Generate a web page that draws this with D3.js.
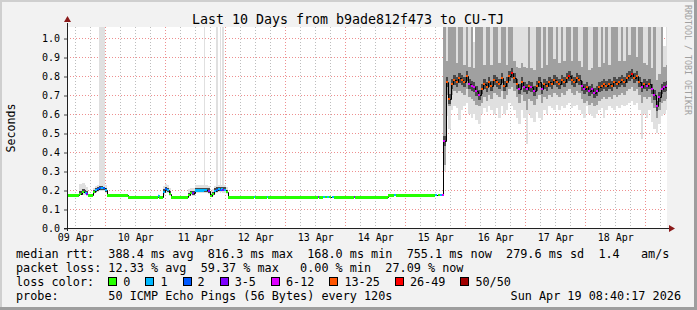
<!DOCTYPE html>
<html>
<head>
<meta charset="utf-8">
<script src="https://d3js.org/d3.v7.min.js"></script>
<style>
body { margin: 0; background: #f2f2f2; }
svg text { font-family: "DejaVu Sans Mono", monospace; }
</style>
</head>
<body>
<div id="chart"></div>
<script>
// graph window (times shown as the probe's local clock)
var startTime = new Date(Date.UTC(2026, 3, 9, 8, 40, 17));
var endTime = new Date(Date.UTC(2026, 3, 19, 8, 40, 17));

// first six days: step samples, hours after startTime
var lowHour = [0, 5.0, 6.0, 7.0, 7.6, 8.4, 10.4, 11.2, 12.0, 12.8, 13.6, 14.4, 15.0, 15.8, 24.4, 36.2, 36.8,
  38.4, 39.2, 40.0, 40.8, 41.6, 48.4, 49.2, 50.0, 51.2, 54.8, 55.2, 56.4, 57.2, 58.0, 58.8, 59.6, 60.2,
  61.0, 61.4, 61.8, 62.6, 63.6, 64.4, 74.8, 75.4, 80.0, 80.5, 100.2, 100.8, 102.4, 103.0, 104.0, 104.6,
  106.0, 106.6, 114.6, 115.2, 128.3, 130.8, 131.4, 147.2, 148.4, 149.2, 149.8];
var lowMedian = [0.175, 0.18, 0.19, 0.185, 0.178, 0.175, 0.19, 0.2, 0.205, 0.21, 0.21, 0.208, 0.2, 0.175,
  0.165, 0.17, 0.165, 0.19, 0.205, 0.2, 0.18, 0.165, 0.175, 0.185, 0.182, 0.2, 0.2, 0.2, 0.195, 0.17,
  0.178, 0.195, 0.2, 0.205, 0.2, 0.205, 0.2, 0.2, 0.19, 0.165, 0.165, 0.165, 0.165, 0.165, 0.165, 0.165,
  0.165, 0.165, 0.165, 0.165, 0.165, 0.165, 0.165, 0.165, 0.175, 0.175, 0.175, 0.175, 0.175, 0.175, 0.175];
var lowLoss = [0, 0, 0, 1, 3, 0, 0, 1, 2, 2, 1, 2, 1, 0, 0, 1, 0, 1, 2, 1, 0, 0, 0, 0, 3, 1, 1, 1, 3, 0,
  0, 1, 2, 1, 2, 1, 3, 1, 0, 0, 1, 0, 1, 0, 3, 0, 1, 0, 1, 0, 1, 0, 3, 0, 0, 1, 0, 1, 0, 1, 4];
// smoke of the first days (samples past the end of these lists have none)
var lowMin = [null, 0.172, 0.175, 0.172, 0.17, null, 0.178, 0.185, 0.19, 0.195, 0.195, 0.193, 0.185, null,
  null, 0.163, null, 0.175, 0.185, 0.183, 0.168, null, 0.165, 0.172, 0.17, 0.185, 0.185, 0.185, 0.18, 0.165,
  0.168, 0.182, 0.185, 0.188, 0.186, 0.188, 0.186, 0.186, 0.178];
var lowP25 = [null, 0.176, 0.182, 0.178, 0.174, null, 0.183, 0.192, 0.197, 0.2, 0.2, 0.2, 0.192, null,
  null, 0.165, null, 0.182, 0.195, 0.19, 0.172, null, 0.17, 0.178, 0.176, 0.192, 0.192, 0.192, 0.186, 0.167,
  0.172, 0.188, 0.192, 0.196, 0.193, 0.196, 0.193, 0.193, 0.183];
var lowP75 = [null, 0.195, 0.205, 0.2, 0.195, null, 0.2, 0.212, 0.216, 0.22, 0.22, 0.218, 0.212, null,
  null, 0.176, null, 0.205, 0.215, 0.212, 0.195, null, 0.185, 0.195, 0.195, 0.212, 0.212, 0.212, 0.208, 0.18,
  0.19, 0.208, 0.214, 0.216, 0.214, 0.216, 0.214, 0.214, 0.202];
var lowMax = [null, 0.23, 0.235, 0.225, 0.215, null, 0.212, 0.222, 0.228, 1.2, 1.2, 1.2, 0.224, null,
  null, 0.18, null, 0.222, 0.23, 0.226, 0.21, null, 0.205, 0.21, 0.212, 0.224, 1.2, 0.224, 0.22, 0.195,
  0.205, 0.222, 1.2, 0.226, 1.2, 0.226, 1.2, 0.226, 0.215];

// last four days: hourly samples from highFirstHour
var highFirstHour = 150.4;
var highMedian = [0.46, 0.77, 0.68, 0.76, 0.78, 0.77, 0.79, 0.78, 0.77, 0.80,
  0.76, 0.75, 0.74, 0.72, 0.70, 0.73, 0.76, 0.74, 0.77, 0.75,
  0.78, 0.77, 0.76, 0.79, 0.75, 0.77, 0.80, 0.815, 0.79, 0.76,
  0.73, 0.77, 0.74, 0.73, 0.75, 0.74, 0.72, 0.75, 0.77, 0.73,
  0.76, 0.75, 0.77, 0.76, 0.78, 0.77, 0.76, 0.78, 0.77, 0.79,
  0.80, 0.78, 0.77, 0.79, 0.78, 0.75, 0.73, 0.74, 0.72, 0.73,
  0.71, 0.72, 0.74, 0.75, 0.76, 0.75, 0.76, 0.75, 0.77, 0.76,
  0.77, 0.78, 0.77, 0.79, 0.80, 0.81, 0.79, 0.80, 0.77, 0.74,
  0.76, 0.75, 0.76, 0.73, 0.70, 0.64, 0.69, 0.73, 0.74, 0.75];
var highLoss = [4, 5, 5, 5, 5, 5, 5, 5, 5, 5,
  4, 4, 4, 4, 4, 5, 5, 5, 5, 5,
  5, 5, 5, 5, 5, 5, 5, 6, 5, 5,
  4, 5, 4, 4, 5, 4, 4, 5, 5, 4,
  5, 5, 5, 5, 5, 5, 5, 5, 5, 5,
  6, 5, 5, 5, 5, 4, 4, 5, 4, 4,
  4, 4, 5, 5, 5, 5, 5, 5, 5, 5,
  5, 5, 5, 5, 5, 6, 5, 5, 5, 4,
  5, 4, 5, 4, 4, 4, 4, 4, 4, 4];
var highMin = [0.30, 0.59, 0.52, 0.62, 0.64, 0.63, 0.57, 0.62, 0.64, 0.66,
  0.60, 0.58, 0.60, 0.57, 0.55, 0.60, 0.63, 0.61, 0.64, 0.62,
  0.60, 0.63, 0.58, 0.64, 0.60, 0.62, 0.66, 0.64, 0.62, 0.58,
  0.55, 0.62, 0.58, 0.44, 0.60, 0.58, 0.56, 0.61, 0.58, 0.57,
  0.62, 0.60, 0.64, 0.63, 0.62, 0.65, 0.62, 0.64, 0.63, 0.65,
  0.66, 0.63, 0.64, 0.65, 0.62, 0.60, 0.58, 0.64, 0.60, 0.59,
  0.58, 0.60, 0.62, 0.63, 0.58, 0.62, 0.64, 0.63, 0.62, 0.64,
  0.63, 0.65, 0.64, 0.65, 0.66, 0.67, 0.65, 0.66, 0.62, 0.47,
  0.60, 0.58, 0.62, 0.56, 0.52, 0.50, 0.55, 0.59, 0.60, 0.62];
var highP25 = [0.33, 0.70, 0.64, 0.70, 0.72, 0.71, 0.72, 0.71, 0.70, 0.73,
  0.69, 0.68, 0.67, 0.65, 0.64, 0.66, 0.69, 0.67, 0.70, 0.68,
  0.71, 0.70, 0.69, 0.72, 0.68, 0.70, 0.73, 0.74, 0.72, 0.69,
  0.66, 0.70, 0.67, 0.62, 0.68, 0.67, 0.65, 0.68, 0.70, 0.66,
  0.69, 0.68, 0.70, 0.69, 0.71, 0.70, 0.69, 0.71, 0.70, 0.72,
  0.73, 0.71, 0.70, 0.72, 0.71, 0.68, 0.66, 0.67, 0.65, 0.66,
  0.64, 0.65, 0.67, 0.68, 0.69, 0.68, 0.69, 0.68, 0.70, 0.69,
  0.70, 0.71, 0.70, 0.72, 0.73, 0.74, 0.72, 0.73, 0.70, 0.66,
  0.69, 0.68, 0.69, 0.66, 0.63, 0.58, 0.62, 0.66, 0.67, 0.68];
var highP75 = [1.20, 0.88, 1.20, 1.20, 1.20, 0.87, 1.20, 1.20, 0.86, 1.20,
  0.85, 1.20, 0.84, 1.20, 1.20, 1.20, 0.86, 1.20, 1.20, 0.86,
  1.20, 1.20, 0.87, 1.20, 1.20, 0.86, 1.20, 1.20, 0.88, 0.85,
  0.84, 0.87, 0.85, 0.84, 1.20, 0.84, 0.83, 1.20, 1.20, 0.84,
  1.20, 0.86, 1.20, 1.20, 0.89, 1.20, 0.87, 1.20, 0.88, 1.20,
  1.20, 0.88, 1.20, 1.20, 0.88, 0.85, 1.20, 1.20, 0.83, 0.84,
  1.20, 1.20, 0.85, 1.20, 0.87, 1.20, 0.86, 1.20, 1.20, 1.20,
  0.88, 1.20, 0.88, 1.20, 0.91, 1.20, 1.20, 0.90, 1.20, 1.20,
  0.87, 0.86, 1.20, 0.84, 1.20, 0.78, 0.81, 1.20, 0.85, 0.86];
var highMax = [1.20, 1.20, 1.20, 1.20, 1.20, 1.20, 1.20, 1.20, 1.20, 1.20,
  1.20, 1.20, 0.98, 1.20, 1.20, 1.20, 1.20, 1.20, 1.20, 1.20,
  1.20, 1.20, 1.20, 1.20, 1.20, 1.20, 1.20, 1.20, 1.20, 1.20,
  1.20, 1.20, 1.20, 1.20, 1.20, 1.20, 1.20, 1.20, 1.20, 1.20,
  1.20, 1.20, 1.20, 1.20, 1.20, 1.20, 1.20, 1.20, 1.20, 1.20,
  1.20, 1.20, 1.20, 1.20, 1.20, 1.20, 1.20, 1.20, 1.20, 1.20,
  1.20, 1.20, 1.20, 1.20, 1.20, 1.20, 1.20, 1.20, 1.20, 1.20,
  1.20, 1.20, 1.20, 1.20, 1.20, 1.20, 1.20, 1.20, 1.20, 1.20,
  1.20, 1.20, 1.20, 1.20, 1.20, 1.20, 1.20, 1.20, 0.96, 1.20];

var lossLabels = ["0", "1", "2", "3-5", "6-12", "13-25", "26-49", "50/50"];
var lossColors = ["#26ff00", "#00b8ff", "#0059ff", "#7e00ff", "#dd00ff", "#ff5500", "#ff0000", "#a10000"];
var yTicks = [0, 0.1, 0.2, 0.3, 0.4, 0.5, 0.6, 0.7, 0.8, 0.9, 1.0];
var rttStats = [388.4, 816.3, 168.0, 755.1, 279.6];   // ms: avg max min now sd
var rttStatNames = ["avg", "max", "min", "now", "sd"];
var amPerSec = 1.4;
var lossStats = [12.33, 59.37, 0.00, 27.09];          // %: avg max min now
var lossStatNames = ["avg", "max", "min", "now"];
var probeText = "50 ICMP Echo Pings (56 Bytes) every 120s";
var stampText = "Sun Apr 19 08:40:17 2026";
var title = "Last 10 Days from b9ade812f473 to CU-TJ";

//--------------- build samples --------------------
var HOUR = 3600e3;
var samples = [];
lowHour.forEach(function(h, i) {
  samples.push({t: new Date(+startTime + h*HOUR), med: lowMedian[i], loss: lowLoss[i],
    min: lowMin[i], p25: lowP25[i], p75: lowP75[i], max: lowMax[i]});
});
highMedian.forEach(function(m, i) {
  samples.push({t: new Date(+startTime + (highFirstHour + i)*HOUR), med: m, loss: highLoss[i],
    min: highMin[i], p25: highP25[i], p75: highP75[i], max: highMax[i]});
});
samples.forEach(function(d, i) {
  d.t1 = i < samples.length - 1 ? samples[i+1].t : endTime;
});

var W = 697, H = 310;
var plotL = 67, plotR = 667, plotT = 27, plotB = 228;

var x = d3.scaleUtc().domain([startTime, endTime]).range([plotL, plotR]);
var y = d3.scaleLinear().domain([0, 1.058]).range([plotB, plotT]);

var svg = d3.select("#chart").append("svg")
  .attr("width", W)
  .attr("height", H);

// background + 3d frame
svg.append("rect").attr("width", W).attr("height", H).style("fill", "#f2f2f2");
svg.append("rect").attr("width", W).attr("height", 2).style("fill", "#cfcfcf");
svg.append("rect").attr("width", 2).attr("height", H).style("fill", "#cfcfcf");
svg.append("rect").attr("x", 0).attr("y", H-3).attr("width", W).attr("height", 3).style("fill", "#9e9e9e");
svg.append("rect").attr("x", W-3).attr("y", 0).attr("width", 3).attr("height", H).style("fill", "#9e9e9e");

svg.append("rect")
  .attr("x", plotL).attr("y", plotT)
  .attr("width", plotR-plotL).attr("height", plotB-plotT)
  .style("fill", "#ffffff");

svg.append("defs").append("clipPath").attr("id", "plotclip")
  .append("rect")
  .attr("x", plotL).attr("y", plotT)
  .attr("width", plotR-plotL).attr("height", plotB-plotT);

//--------------- grid --------------------
var grid = svg.append("g");
var majorDays = d3.utcDay.range(startTime, endTime);
var minorHours = d3.utcHour.every(6).range(startTime, endTime)
  .filter(function(d) { return d.getUTCHours() != 0; });

grid.selectAll("line.vminor").data(minorHours).enter().append("line")
  .attr("x1", function(d) { return Math.round(x(d)) + 0.5; })
  .attr("x2", function(d) { return Math.round(x(d)) + 0.5; })
  .attr("y1", plotT).attr("y2", plotB)
  .style("stroke", "#bdbdbd")
  .style("stroke-dasharray", "1,2");
grid.selectAll("line.vmajor").data(majorDays).enter().append("line")
  .attr("x1", function(d) { return Math.round(x(d)) + 0.5; })
  .attr("x2", function(d) { return Math.round(x(d)) + 0.5; })
  .attr("y1", plotT).attr("y2", plotB)
  .style("stroke", "#ee8f8f")
  .style("stroke-dasharray", "1,2");
grid.selectAll("line.hmajor").data(yTicks.slice(1)).enter().append("line")
  .attr("x1", plotL).attr("x2", plotR)
  .attr("y1", function(d) { return Math.round(y(d)) + 0.5; })
  .attr("y2", function(d) { return Math.round(y(d)) + 0.5; })
  .style("stroke", "#ee8f8f")
  .style("stroke-dasharray", "1,2");

//--------------- smoke + median --------------------
var plot = svg.append("g").attr("clip-path", "url(#plotclip)");
var withSmoke = samples.filter(function(d) { return d.min != null; });

function colX(d) { return Math.round(x(d.t)); }
function colW(d) { return Math.max(1, Math.round(x(d.t1)) - Math.round(x(d.t))); }

plot.selectAll("rect.outer").data(withSmoke).enter().append("rect")
  .attr("class", "outer")
  .attr("x", colX).attr("width", colW)
  .attr("y", function(d) { return y(d.max); })
  .attr("height", function(d) { return y(d.min) - y(d.max); })
  .attr("shape-rendering", "crispEdges")
  .style("fill", "#e0e0e0");

plot.selectAll("rect.mid").data(withSmoke).enter().append("rect")
  .attr("class", "mid")
  .attr("x", colX).attr("width", colW)
  .attr("y", function(d) { return y(d.p75); })
  .attr("height", function(d) { return y(d.p25) - y(d.p75); })
  .attr("shape-rendering", "crispEdges")
  .style("fill", "#a0a0a0");

// dark core right around the median
plot.selectAll("rect.core").data(withSmoke).enter().append("rect")
  .attr("class", "core")
  .attr("x", colX).attr("width", colW)
  .attr("y", function(d) { return Math.max(y(d.p75), y(d.med) - 5); })
  .attr("height", function(d) { return Math.min(y(d.p25), y(d.med) + 5) - Math.max(y(d.p75), y(d.med) - 5); })
  .attr("shape-rendering", "crispEdges")
  .style("fill", "#4a4a4a");

// black step line of the median, loss colours on top
var stepPath = d3.line()
  .x(function(p) { return p[0]; })
  .y(function(p) { return p[1]; });
var pts = [];
samples.forEach(function(d) {
  pts.push([Math.round(x(d.t)) + 0.5, Math.round(y(d.med)) + 0.5]);
  pts.push([Math.round(x(d.t1)) + 0.5, Math.round(y(d.med)) + 0.5]);
});
plot.append("path")
  .attr("d", stepPath(pts))
  .style("fill", "none")
  .style("stroke", "#000")
  .style("stroke-width", 1);

plot.selectAll("rect.med").data(samples).enter().append("rect")
  .attr("class", "med")
  .attr("x", colX)
  .attr("width", function(d) { var w = colW(d); return w > 3 ? w : 2; })
  .attr("y", function(d) { return Math.round(y(d.med)) - 1; })
  .attr("height", function(d) { return colW(d) > 3 ? 3 : 2; })
  .attr("shape-rendering", "crispEdges")
  .style("fill", function(d) { return lossColors[d.loss]; });

//--------------- axes --------------------
var yAxis = svg.append("g")
  .attr("transform", "translate(" + plotL + ",0.5)")
  .call(d3.axisLeft(y).tickValues(yTicks).tickFormat(d3.format(".1f")).tickSize(3).tickPadding(4));
yAxis.select(".domain").remove();
yAxis.selectAll("line").style("stroke", "#444");
yAxis.selectAll("text")
  .attr("font-family", "DejaVu Sans Mono")
  .attr("font-size", "10px")
  .style("fill", "#000");

var noons = majorDays.concat([d3.utcDay.floor(startTime)])
  .map(function(d) { return d3.utcHour.offset(d, 12); })
  .filter(function(d) { return d > startTime && d < endTime; })
  .sort(d3.ascending);
var xAxis = svg.append("g")
  .attr("transform", "translate(0," + plotB + ")")
  .call(d3.axisBottom(x).tickValues(noons).tickFormat(d3.utcFormat("%d %b")).tickSize(0).tickPadding(6));
xAxis.select(".domain").remove();
xAxis.selectAll("text")
  .attr("font-family", "DejaVu Sans Mono")
  .attr("font-size", "10px")
  .style("fill", "#000");

// axis lines with arrows
svg.append("line")
  .attr("x1", plotL + 0.5).attr("x2", plotL + 0.5)
  .attr("y1", plotB + 3).attr("y2", plotT - 4)
  .style("stroke", "#212121");
svg.append("line")
  .attr("x1", plotL - 3).attr("x2", plotR + 4)
  .attr("y1", plotB + 0.5).attr("y2", plotB + 0.5)
  .style("stroke", "#212121");
svg.append("path")
  .attr("d", "M" + (plotL - 3) + "," + (plotT - 5) + "L" + (plotL + 0.5) + "," + (plotT - 11) + "L" + (plotL + 4) + "," + (plotT - 5) + "Z")
  .style("fill", "#8b1a1a");
svg.append("path")
  .attr("d", "M" + (plotR + 2) + "," + (plotB - 3) + "L" + (plotR + 8) + "," + (plotB + 0.5) + "L" + (plotR + 2) + "," + (plotB + 4) + "Z")
  .style("fill", "#8b1a1a");

//--------------- texts --------------------
svg.append("text")
  .attr("x", 348).attr("y", 24)
  .attr("text-anchor", "middle")
  .style("font-size", "13.3px")
  .text(title);

svg.append("text")
  .attr("transform", "translate(15,128) rotate(-90)")
  .attr("text-anchor", "middle")
  .style("font-size", "11.6px")
  .text("Seconds");

svg.append("text")
  .attr("transform", "translate(685,5) rotate(90)")
  .attr("text-anchor", "start")
  .style("font-size", "8.3px")
  .style("fill", "#a0a0a0")
  .text("RRDTOOL / TOBI OETIKER");

//--------------- legend --------------------
var legendFont = 11.8, charW = legendFont * 0.602;
var lx = 16;
var rowY = [258, 272, 286, 300];
var f1 = d3.format("5.1f"), f2 = d3.format("5.2f");

function legendRow(row, str) {
  return svg.append("text")
    .attr("x", lx).attr("y", rowY[row])
    .attr("xml:space", "preserve")
    .style("white-space", "pre")
    .style("font-size", legendFont + "px")
    .text(str);
}

var line1 = "median rtt:  " + rttStats.map(function(v, i) {
  return f1(v) + " ms " + rttStatNames[i];
}).join("  ") + "  " + amPerSec.toFixed(1) + "   am/s";
legendRow(0, line1);

var line2 = "packet loss: " + lossStats.map(function(v, i) {
  return f2(v) + " % " + lossStatNames[i];
}).join("  ");
legendRow(1, line2);

legendRow(2, "loss color:");
var bx = lx + 13 * charW;
lossLabels.forEach(function(lab, i) {
  svg.append("rect")
    .attr("x", Math.round(bx) + 0.5).attr("y", rowY[2] - 8.5)
    .attr("width", 8).attr("height", 8)
    .style("fill", lossColors[i])
    .style("stroke", "#000");
  svg.append("text")
    .attr("x", bx + 15).attr("y", rowY[2])
    .style("font-size", legendFont + "px")
    .text(lab);
  bx += 15 + lab.length * charW + 15;
});

legendRow(3, "probe:       " + probeText);
svg.append("text")
  .attr("x", 681).attr("y", rowY[3])
  .attr("text-anchor", "end")
  .style("font-size", legendFont + "px")
  .text(stampText);
</script>
</body>
</html>
